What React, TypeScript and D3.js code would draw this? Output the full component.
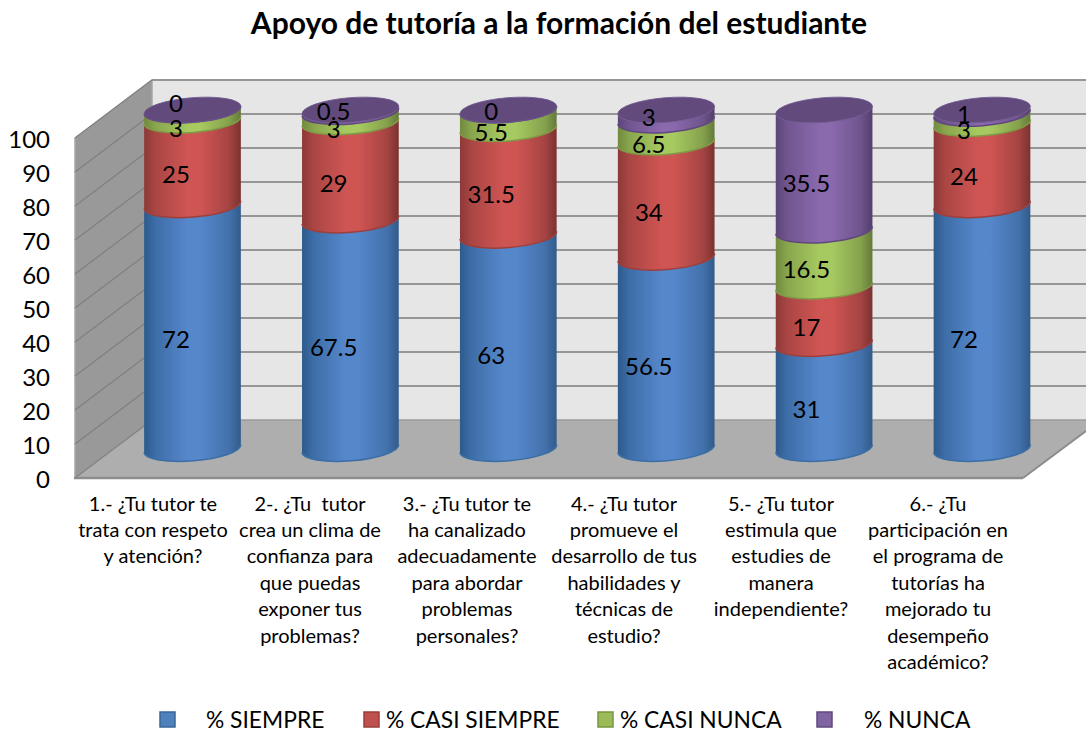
import React from "react";
import * as d3 from "d3";

const title = "Apoyo de tutoría a la formación del estudiante";
const categories = [
  ["1.- ¿Tu tutor te", "trata con respeto", "y atención?"],
  ["2-. ¿Tu  tutor", "crea un clima de", "confianza para", "que puedas", "exponer tus", "problemas?"],
  ["3.- ¿Tu tutor te", "ha canalizado", "adecuadamente", "para abordar", "problemas", "personales?"],
  ["4.- ¿Tu tutor", "promueve el", "desarrollo de tus", "habilidades y", "técnicas de", "estudio?"],
  ["5.- ¿Tu tutor", "estimula que", "estudies de", "manera", "independiente?"],
  ["6.- ¿Tu", "participación en", "el programa de", "tutorías ha", "mejorado tu", "desempeño", "académico?"],
];
const siempre = [72, 67.5, 63, 56.5, 31, 72];
const casiSiempre = [25, 29, 31.5, 34, 17, 24];
const casiNunca = [3, 3, 5.5, 6.5, 16.5, 3];
const nunca = [0, 0.5, 0, 3, 35.5, 1];
const seriesNames = ["% SIEMPRE", "% CASI SIEMPRE", "% CASI NUNCA", "% NUNCA"];
const yTicks = [0, 10, 20, 30, 40, 50, 60, 70, 80, 90, 100];

// styling and layout constants
const palettes = [
  { id: "b", edge: "#2c5a8c", mid: "#5587cb", dark: "#315b8a", line: "#3a6ea5", swatch: "#4f81bd", swatchEdge: "#3a679b" },
  { id: "r", edge: "#8c3937", mid: "#cf5553", dark: "#7a3230", line: "#9c3f3d", swatch: "#c0504d", swatchEdge: "#9a3d3a" },
  { id: "g", edge: "#71893e", mid: "#a6c960", dark: "#64793a", line: "#7f9a45", swatch: "#9bbb59", swatchEdge: "#7a9440" },
  { id: "p", edge: "#5c4578", mid: "#8a69ad", dark: "#523e6c", line: "#60487e", swatch: "#8064a2", swatchEdge: "#5f4a7c" },
];
const capColor = "#624a7c";
const legendSwatchX = [160, 364, 598, 817];
const legendTextX = [206, 386, 620, 864];
const nudgeTop = [-18, -10, -10, -9, 2, -8];
const nudgeGreen = [2, 2, 2, 2, 0, 1];

const stacked = d3.stack<number>()
  .keys([0, 1, 2, 3] as any)
  .value((i: number, k: any) => [siempre, casiSiempre, casiNunca, nunca][k][i])(d3.range(6));

const yFront = d3.scaleLinear().domain([0, 100]).range([478, 138]);
const yBack = d3.scaleLinear().domain([0, 100]).range([420, 80]);
const yCyl = d3.scaleLinear().domain([0, 100]).range([448.5, 110]);
const yLabel = d3.scaleLinear().domain([0, 100]).range([461, 121]);
const xCyl = d3.scaleLinear().domain([0, 5]).range([192.5, 982]);
const xVal = d3.scaleLinear().domain([0, 5]).range([176, 964]);
const xCat = d3.scaleLinear().domain([0, 5]).range([153, 938]);

const RX = 48.5;
const RY = 12.3;
const TILT = -4.6;
const dxT = RX * Math.cos((TILT * Math.PI) / 180);
const dyT = RX * Math.sin((TILT * Math.PI) / 180);

function segment(cx: number, yb: number, yt: number) {
  const arc = `A${RX} ${RY} ${TILT}`;
  return `M${cx - dxT} ${yb - dyT} ${arc} 0 0 ${cx + dxT} ${yb + dyT} L${cx + dxT} ${yt + dyT} ${arc} 0 1 ${cx - dxT} ${yt - dyT} Z`;
}
function lowerArc(cx: number, y: number) {
  return `M${cx - dxT} ${y - dyT} A${RX} ${RY} ${TILT} 0 0 ${cx + dxT} ${y + dyT}`;
}

const FONT = "Lato, 'Open Sans', sans-serif";

export default function App() {
  return (
    <svg width={1086} height={732} viewBox="0 0 1086 732"
      style={{ position: "absolute", left: 0, top: 0, background: "#fff" }} fontFamily={FONT}>
      <defs>
        {palettes.map((p) => (
          <linearGradient key={p.id} id={"grad-" + p.id} x1="0" x2="1" y1="0" y2="0">
            <stop offset="0" stopColor={p.edge} />
            <stop offset="0.12" stopColor={d3.interpolateRgb(p.edge, p.mid)(0.45)} />
            <stop offset="0.45" stopColor={p.mid} />
            <stop offset="0.58" stopColor={p.mid} />
            <stop offset="0.88" stopColor={d3.interpolateRgb(p.dark, p.mid)(0.5)} />
            <stop offset="1" stopColor={p.dark} />
          </linearGradient>
        ))}
      </defs>

      <text x={559} y={34} textAnchor="middle" fontSize={30} fontWeight={700} fill="#000">{title}</text>

      {/* walls */}
      <polygon fill="#e6e6e6" points={`152,${yBack(100)} 1086,${yBack(100)} 1086,${yBack(0)} 152,${yBack(0)}`} />
      <polygon fill="#999999" stroke="#a6a6a6" strokeWidth={1.5}
        points={`75,${yFront(100)} 152,${yBack(100)} 152,${yBack(0)} 75,${yFront(0)}`} />
      <polygon fill="#aeaeae" points={`75,${yFront(0)} 152,${yBack(0)} 1086,${yBack(0)} 1086,431 1023,${yFront(0)}`} />

      {yTicks.map((t) => (
        <g key={t}>
          {t > 0 && (
            <line x1={152} x2={1086} y1={yBack(t)} y2={yBack(t)} stroke="#969696" strokeWidth={2} />
          )}
          <line x1={75} x2={152} y1={yFront(t)} y2={yBack(t)} stroke="#808080" strokeWidth={1.2} />
          <text x={50} y={yFront(t) + 1} dy="0.36em" textAnchor="end" fontSize={24} fill="#000">{t}</text>
        </g>
      ))}
      <line x1={74} x2={1023} y1={yFront(0)} y2={yFront(0)} stroke="#8c8c8c" strokeWidth={2.5} />
      <line x1={1023} x2={1086} y1={yFront(0)} y2={431} stroke="#8c8c8c" strokeWidth={2} />
      <line x1={152} x2={1086} y1={yBack(0)} y2={yBack(0)} stroke="#9a9a9a" strokeWidth={1.5} />

      {/* cylinders */}
      {d3.range(6).map((i) => (
        <g key={i}>
          {stacked.map((s, k) => (
            <g key={k}>
              <path d={segment(xCyl(i), yCyl(s[i][0]), yCyl(s[i][1]))} fill={`url(#grad-${palettes[k].id})`} />
              <path d={lowerArc(xCyl(i), yCyl(s[i][0]))} fill="none" stroke={palettes[k].line} strokeWidth={1.5} />
            </g>
          ))}
          <ellipse cx={xCyl(i)} cy={yCyl(100)} rx={RX} ry={RY} fill={capColor}
            stroke="#6d5490" strokeWidth={0.8}
            transform={`rotate(${TILT} ${xCyl(i)} ${yCyl(100)})`} />
        </g>
      ))}

      {/* value labels */}
      {d3.range(6).map((i) =>
        stacked.map((s, k) => (
          <text key={`${i}-${k}`} x={xVal(i)}
            y={yLabel((s[i][0] + s[i][1]) / 2) + (k === 3 ? nudgeTop[i] : k === 2 ? nudgeGreen[i] : 1)}
            dy="0.36em" textAnchor="middle" fontSize={24} fill="#000">
            {[siempre, casiSiempre, casiNunca, nunca][k][i]}
          </text>
        ))
      )}

      {/* category labels */}
      {categories.map((lines, i) => (
        <text key={i} textAnchor="middle" fontSize={20} fill="#000" style={{ whiteSpace: "pre" }}>
          {lines.map((l, j) => (
            <tspan key={j} x={xCat(i)} y={510.5 + j * 26.4}>{l}</tspan>
          ))}
        </text>
      ))}

      {/* legend */}
      {seriesNames.map((n, k) => (
        <g key={n}>
          <rect x={legendSwatchX[k]} y={712} width={15} height={15} fill={palettes[k].swatch}
            stroke={palettes[k].swatchEdge} strokeWidth={1.5} />
          <text x={legendTextX[k]} y={727.5} fontSize={22.8} fill="#000">{n}</text>
        </g>
      ))}
    </svg>
  );
}
